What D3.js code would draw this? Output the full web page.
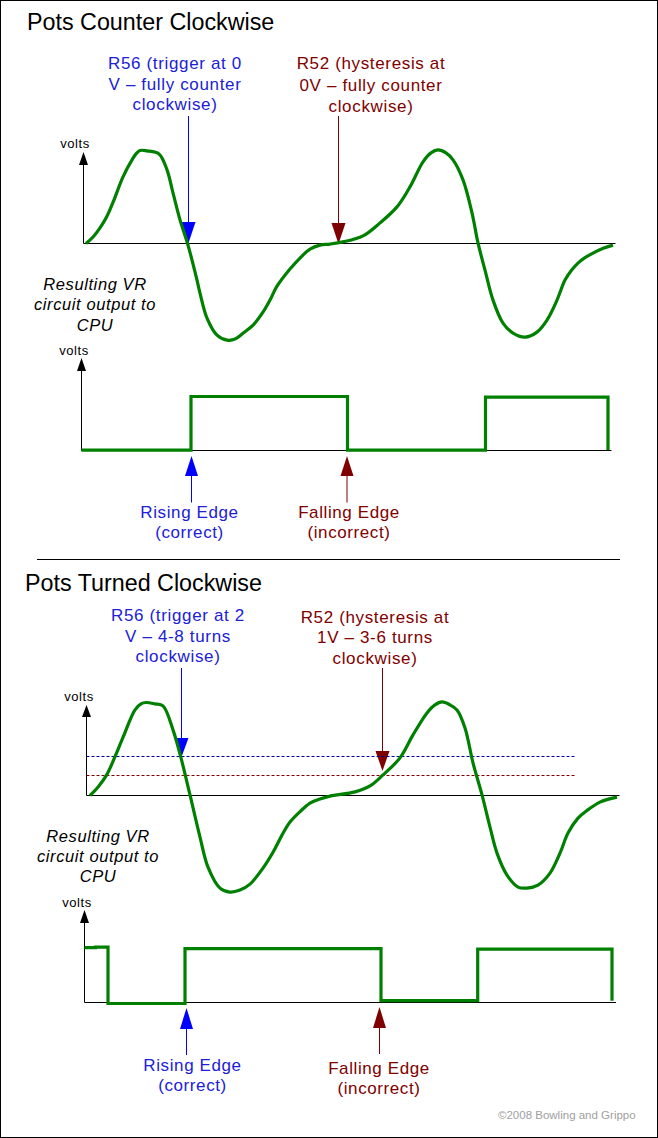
<!DOCTYPE html>
<html><head><meta charset="utf-8">
<script src="https://cdn.jsdelivr.net/npm/d3@7"></script>
<style>html,body{margin:0;padding:0;background:#fff}svg{display:block}text{font-family:"Liberation Sans",Arial,sans-serif}</style>
</head><body><svg id="c" width="658" height="1138"></svg>
<script>
// Data: time in arbitrary units, signal in volts
const waveTimeCCW = [2.5,9.8,16.5,23.2,29.8,39.5,48.5,52.5,56.5,63.5,75.5,83.5,89.5,96.5,104.5,113.5,116.5,123.5,133.5,143.5,151.5,159.5,169.8,179.8,186.5,193.2,206.5,216.5,226.5,236.5,246.5,259.5,279.5,296.5,313.5,326.5,339.5,347.5,354.5,362.5,369.5,379.5,388.5,394.5,401.5,409.5,419.5,429.5,441.5,453.5,463.5,473.5,481.5,488.2,494.5,501.5,509.5,519.8,529.5];
const waveVoltsCCW = [0,.34,.78,1.34,2.09,3.33,4.18,4.48,4.65,4.63,4.48,3.68,2.53,1.18,-.08,-1.83,-2.48,-3.73,-4.58,-4.83,-4.78,-4.49,-4.07,-3.41,-2.83,-2.16,-1.28,-.73,-.28,-.08,-.03,.08,.38,1.03,1.83,2.83,4.08,4.53,4.68,4.53,4.18,3.18,1.53,.03,-1.33,-2.83,-3.98,-4.48,-4.68,-4.43,-3.83,-2.83,-1.83,-1.33,-.98,-.71,-.48,-.24,-.08];
const waveTimeCW = [3.5,11.8,20.2,28.5,36.8,48.5,54.5,59.5,68.5,76.5,86.5,94.5,103.5,113.5,121.5,133.5,143.5,153.5,163.5,176.5,186.8,195.5,203.5,213.5,223.5,233.5,243.5,268.5,283.5,296.5,313.5,326.5,340.5,348.5,355.5,363.5,370.5,378.5,386.5,395.5,403.5,410.5,420.5,431.5,440.5,451.5,463.5,473.5,481.5,491.5,500.2,513.5,530.5];
const waveVoltsCW = [0,.44,1.03,1.94,2.94,4.28,4.58,4.65,4.58,4.48,3.28,1.88,.03,-2.08,-3.58,-4.63,-4.83,-4.73,-4.43,-3.63,-2.81,-1.98,-1.33,-.81,-.38,-.18,-.03,.18,.48,1.03,1.88,3.03,4.13,4.53,4.68,4.53,4.28,3.38,1.63,.03,-1.58,-2.88,-3.98,-4.58,-4.63,-4.48,-3.88,-2.88,-1.88,-1.13,-.76,-.33,-.08];
const outTimeCCW = [0,109.5,109.5,266,266,404,404,526.5,526.5];
const outVoltsCCW = [.02,.02,2.7,2.7,.02,.02,2.67,2.67,.02];
const outTimeCW = [0,11,11,23.5,23.5,100.5,100.5,296.5,296.5,393.2,393.2,527.5,527.5];
const outVoltsCW = [2.74,2.74,2.77,2.77,-.05,-.05,2.69,2.69,.09,.09,2.67,2.67,.09];
const thresholdVolts = [1.97,1.02];
const titles = ["Pots Counter Clockwise","Pots Turned Clockwise"];
const axisLabel = "volts";
const outputCaption = ["Resulting VR","circuit output to","CPU"];
const r56CCW = ["R56 (trigger at 0","V – fully counter","clockwise)"];
const r52CCW = ["R52 (hysteresis at","0V – fully counter","clockwise)"];
const r56CW = ["R56 (trigger at 2","V – 4-8 turns","clockwise)"];
const r52CW = ["R52 (hysteresis at","1V – 3-6 turns","clockwise)"];
const risingLabel = ["Rising Edge","(correct)"];
const fallingLabel = ["Falling Edge","(incorrect)"];
const credit = "©2008 Bowling and Grippo";

const GREEN="#008000",BLUE="#0000ff",RED="#7f0000",TXTB="#2020d8",TXTR="#800000";
const svg=d3.select("#c");
svg.append("rect").attr("x",.5).attr("y",.5).attr("width",657).attr("height",1137).attr("fill","#fff").attr("stroke","#000");

function plot(x0,x1,y0,top,tMax){
  const x=d3.scaleLinear().domain([0,tMax]).range([x0,x1]);
  const y=d3.scaleLinear().domain([0,(y0-top)/20]).range([y0,top]);
  const g=svg.append("g");
  const ax=d3.axisBottom(x).tickValues([]).tickSizeOuter(0).offset(0);
  g.append("g").attr("transform",`translate(0,${y0})`).call(ax).select(".domain").attr("stroke","#000").attr("stroke-width",1);
  const ay=d3.axisLeft(y).tickValues([]).tickSizeOuter(0).offset(0);
  g.append("g").attr("transform",`translate(${x0},0)`).call(ay).select(".domain").attr("stroke","#000").attr("stroke-width",1);
  return {x,y,g};
}
function tri(cx,tipY,baseY,hw,fill){
  svg.append("path").attr("d",d3.line()([[cx,tipY],[cx-hw,baseY],[cx+hw,baseY]])+"Z").attr("fill",fill);
}
function callout(cx,y1,y2,tipY,baseY,hw,fill){
  svg.append("line").attr("x1",cx).attr("x2",cx).attr("y1",y1).attr("y2",y2).attr("stroke",fill).attr("stroke-width",1);
  tri(cx,tipY,baseY,hw,fill);
}
function label(lines,cx,ys,fill,size,ls,style){
  lines.forEach((s,i)=>svg.append("text").text(s).attr("x",cx).attr("y",ys[i]).attr("text-anchor","middle").attr("fill",fill)
    .attr("font-size",size).attr("letter-spacing",ls).attr("font-style",style||"normal"));
}
function wave(p,ts,vs,cur){
  p.g.append("path").datum(ts.map((t,i)=>[t,vs[i]])).attr("fill","none").attr("stroke",GREEN).attr("stroke-width",3.2)
   .attr("stroke-linejoin","miter").attr("d",d3.line().x(d=>p.x(d[0])).y(d=>p.y(d[1])).curve(cur));
}
function ylab(cx,base){label([axisLabel],cx,[base],"#000",13,.6);}

// Titles
svg.append("text").text(titles[0]).attr("x",27).attr("y",30).attr("font-size",23.3).attr("fill","#000");
svg.append("text").text(titles[1]).attr("x",25).attr("y",591).attr("font-size",23.3).attr("fill","#000");

// Top panel
callout(188.5,116,224,243,222,7,BLUE);
callout(338.5,116,226,244,223,7,RED);
const p1=plot(83.5,615.5,243.5,158,532);
tri(83.5,152,165,4.5,"#000"); ylab(75,148);
wave(p1,waveTimeCCW,waveVoltsCCW,d3.curveCatmullRom);
label(r56CCW,175,[69,90,110],TXTB,17,.65);
label(r52CCW,371,[69,91,112],TXTR,17,.65);
label(outputCaption,95,[290,310,331],"#000",16.5,.6,"italic");

const p2=plot(81.5,611.5,450.5,365,530);
tri(81.5,358,371,4.5,"#000"); ylab(74,355);
wave(p2,outTimeCCW,outVoltsCCW,d3.curveLinear);
callout(p2.x(outTimeCCW[1])+.5,472,502.5,456,476,6.5,BLUE);
callout(p2.x(outTimeCCW[3])-.5,472,502.5,456,476,6.5,RED);
label(risingLabel,189.5,[518,538],TXTB,17,.6);
label(fallingLabel,349,[518,538],TXTR,17,.6);

// Separator
svg.append("line").attr("x1",37).attr("x2",620).attr("y1",559.5).attr("y2",559.5).attr("stroke","#000");

// Bottom panel
callout(181.5,668,740,757,738,7,BLUE);
callout(382.5,668,754,771,751,7,RED);
const p3=plot(86.5,619.5,795.5,710,533);
tri(86.5,705,717,4.5,"#000"); ylab(79,701);
thresholdVolts.forEach((v,i)=>{
  p3.g.append("line").attr("x1",p3.x(0)).attr("x2",p3.x(488.5)).attr("y1",Math.floor(p3.y(v))+.5).attr("y2",Math.floor(p3.y(v))+.5)
    .attr("stroke",i?"#800000":"#0000a0").attr("stroke-dasharray","3 2");
});
wave(p3,waveTimeCW,waveVoltsCW,d3.curveCatmullRom);
label(r56CW,178,[621,642,662],TXTB,17,.65);
label(r52CW,375,[622.5,643,664],TXTR,17,.65);
label(outputCaption,98,[842,862,882],"#000",16.5,.6,"italic");

const p4=plot(84.5,616,1002.5,917,531.5);
tri(84.5,910,923,4.5,"#000"); ylab(77,907);
wave(p4,outTimeCW,outVoltsCW,d3.curveLinear);
callout(p4.x(outTimeCW[5])+1.5,1025,1055,1008,1029,6.5,BLUE);
callout(p4.x(outTimeCW[7])-1.5,1025,1054,1007,1028,6.5,RED);
label(risingLabel,192.5,[1071,1091],TXTB,17,.6);
label(fallingLabel,379,[1074,1094],TXTR,17,.6);

svg.append("text").text(credit).attr("x",498).attr("y",1119).attr("font-size",11.5).attr("fill","#a0a0a0");
</script></body></html>
